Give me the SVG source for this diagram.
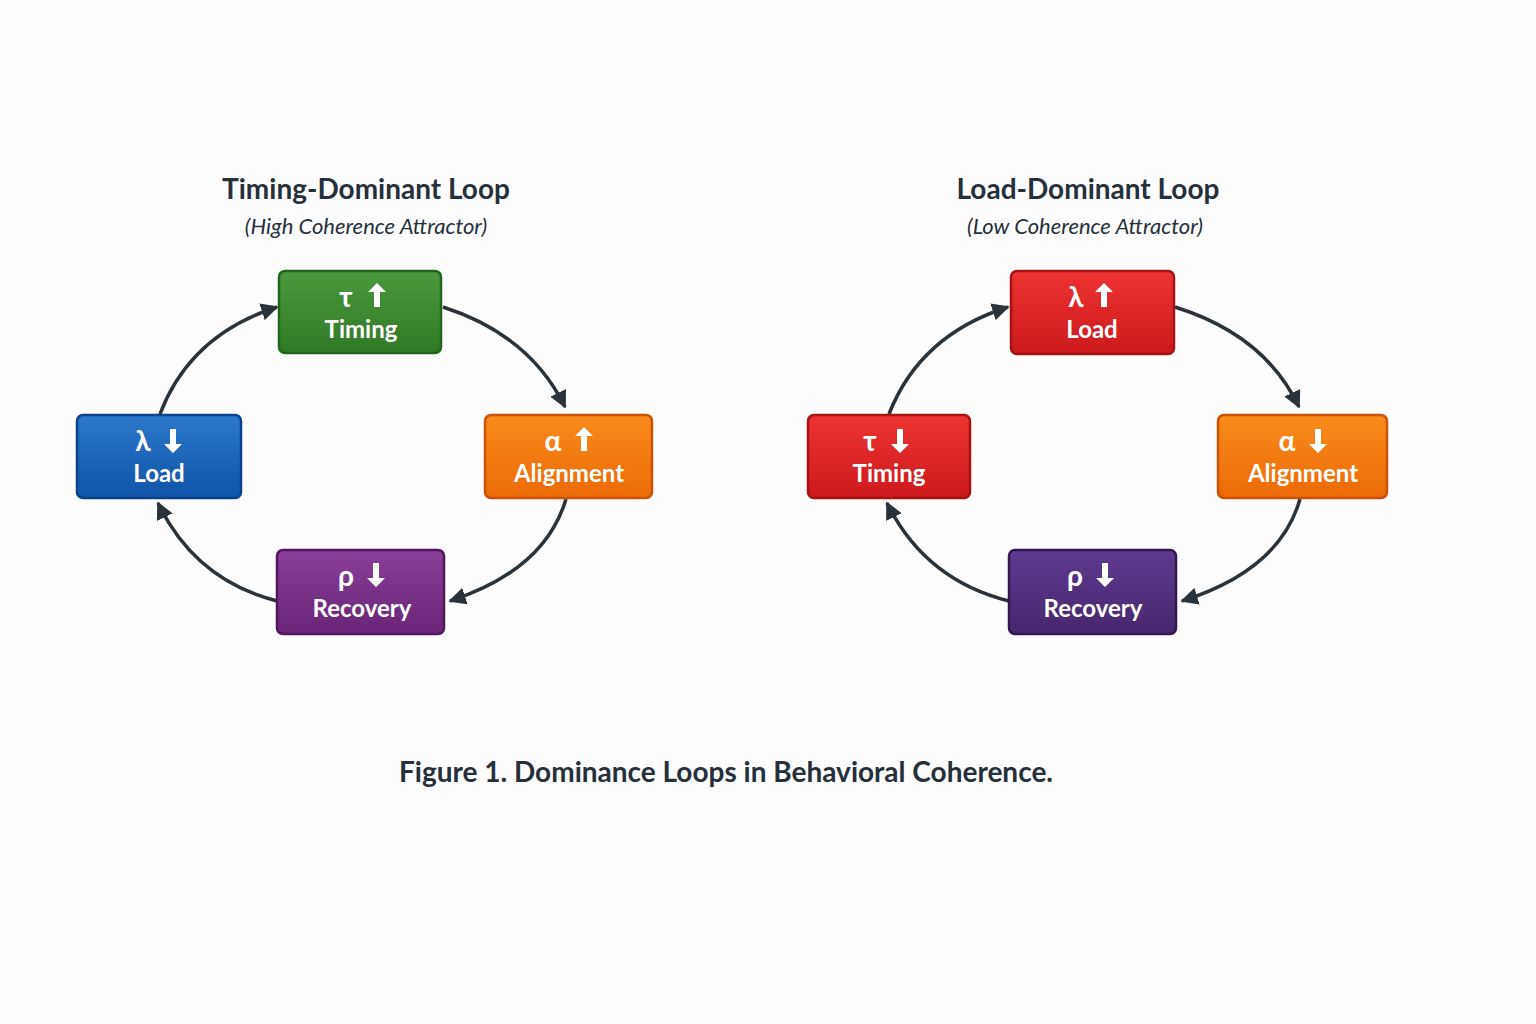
<svg xmlns="http://www.w3.org/2000/svg" width="1536" height="1024" viewBox="0 0 1536 1024">
<defs>
<marker id="ah" viewBox="0 0 10 10" refX="9" refY="5" markerWidth="5" markerHeight="5" orient="auto" markerUnits="strokeWidth"><path d="M0,0 L10,5 L0,10 z" fill="#2a323a"/></marker>
<linearGradient id="g" x1="0" y1="0" x2="0" y2="1"><stop offset="0" stop-color="#4a9a3c"/><stop offset="1" stop-color="#2f7a25"/></linearGradient>
<linearGradient id="b" x1="0" y1="0" x2="0" y2="1"><stop offset="0" stop-color="#2c78c8"/><stop offset="1" stop-color="#0f54a8"/></linearGradient>
<linearGradient id="o" x1="0" y1="0" x2="0" y2="1"><stop offset="0" stop-color="#fb8c1c"/><stop offset="1" stop-color="#ec6a06"/></linearGradient>
<linearGradient id="p" x1="0" y1="0" x2="0" y2="1"><stop offset="0" stop-color="#8a3e98"/><stop offset="1" stop-color="#6a2478"/></linearGradient>
<linearGradient id="r" x1="0" y1="0" x2="0" y2="1"><stop offset="0" stop-color="#ec3430"/><stop offset="1" stop-color="#cc1a1c"/></linearGradient>
<linearGradient id="v" x1="0" y1="0" x2="0" y2="1"><stop offset="0" stop-color="#5e3a90"/><stop offset="1" stop-color="#46266f"/></linearGradient>
</defs>
<style>
.n{stroke-width:2.5}
.t{font-family:Lato,"Open Sans",sans-serif;font-weight:bold;fill:#fff;text-anchor:middle}
.s{font-size:28px}.l{font-size:24px}
.c{fill:none;stroke:#2a323a;stroke-width:3.5;marker-end:url(#ah)}
.h{font-family:Lato,"Open Sans",sans-serif;fill:#26303a;text-anchor:middle}
</style>
<rect width="1536" height="1024" fill="#fdfdfd"/>
<text class="h" x="366" y="199" font-size="28" font-weight="bold">Timing-Dominant Loop</text>
<text class="h" x="366" y="234" font-size="22" font-style="italic">(High Coherence Attractor)</text>
<text class="h" x="1088" y="199" font-size="28" font-weight="bold">Load-Dominant Loop</text>
<text class="h" x="1085" y="234" font-size="22" font-style="italic">(Low Coherence Attractor)</text>
<text class="h" x="726" y="782" font-size="28" font-weight="bold">Figure 1. Dominance Loops in Behavioral Coherence.</text>
<g id="connectors">
<path class="c" d="M160,414 Q190,335 277,307"/>
<path class="c" d="M443,307 Q530,335 565,407"/>
<path class="c" d="M566,499 Q545,570 450,601"/>
<path class="c" d="M277,601 Q195,580 158,503"/>
<path class="c" d="M889,414 Q920,335 1008,307"/>
<path class="c" d="M1175,307 Q1265,335 1299,407"/>
<path class="c" d="M1300,499 Q1280,570 1182,601"/>
<path class="c" d="M1009,601 Q925,580 887,503"/>
</g>
<g id="n1"><rect class="n" x="279" y="271" width="162" height="82" rx="6" fill="url(#g)" stroke="#23641c"/><text class="t s" x="346" y="307">τ</text><path d="M374,307 V292 h-6 l9,-9 l9,9 h-6 V307 z" fill="#fff"/><text class="t l" x="361" y="338">Timing</text></g>
<g id="n2"><rect class="n" x="77" y="415" width="164" height="83" rx="6" fill="url(#b)" stroke="#0c428a"/><text class="t s" x="143" y="451">λ</text><path d="M170,429 V444 h-6 l9,9 l9,-9 h-6 V429 z" fill="#fff"/><text class="t l" x="159" y="482">Load</text></g>
<g id="n3"><rect class="n" x="485" y="415" width="167" height="83" rx="6" fill="url(#o)" stroke="#c95406"/><text class="t s" x="553" y="451">α</text><path d="M581,451 V436 h-6 l9,-9 l9,9 h-6 V451 z" fill="#fff"/><text class="t l" x="569" y="482">Alignment</text></g>
<g id="n4"><rect class="n" x="277" y="550" width="167" height="84" rx="6" fill="url(#p)" stroke="#52185e"/><text class="t s" x="346" y="586">ρ</text><path d="M373,563 V578 h-6 l9,9 l9,-9 h-6 V563 z" fill="#fff"/><text class="t l" x="362" y="617">Recovery</text></g>
<g id="n5"><rect class="n" x="1011" y="271" width="163" height="83" rx="6" fill="url(#r)" stroke="#a81214"/><text class="t s" x="1076" y="307">λ</text><path d="M1101,307 V292 h-6 l9,-9 l9,9 h-6 V307 z" fill="#fff"/><text class="t l" x="1092" y="338">Load</text></g>
<g id="n6"><rect class="n" x="808" y="415" width="162" height="83" rx="6" fill="url(#r)" stroke="#a81214"/><text class="t s" x="870" y="451">τ</text><path d="M897,429 V444 h-6 l9,9 l9,-9 h-6 V429 z" fill="#fff"/><text class="t l" x="889" y="482">Timing</text></g>
<g id="n7"><rect class="n" x="1218" y="415" width="169" height="83" rx="6" fill="url(#o)" stroke="#c95406"/><text class="t s" x="1287" y="451">α</text><path d="M1315,429 V444 h-6 l9,9 l9,-9 h-6 V429 z" fill="#fff"/><text class="t l" x="1303" y="482">Alignment</text></g>
<g id="n8"><rect class="n" x="1009" y="550" width="167" height="84" rx="6" fill="url(#v)" stroke="#33184f"/><text class="t s" x="1075" y="586">ρ</text><path d="M1102,563 V578 h-6 l9,9 l9,-9 h-6 V563 z" fill="#fff"/><text class="t l" x="1093" y="617">Recovery</text></g>
</svg>
